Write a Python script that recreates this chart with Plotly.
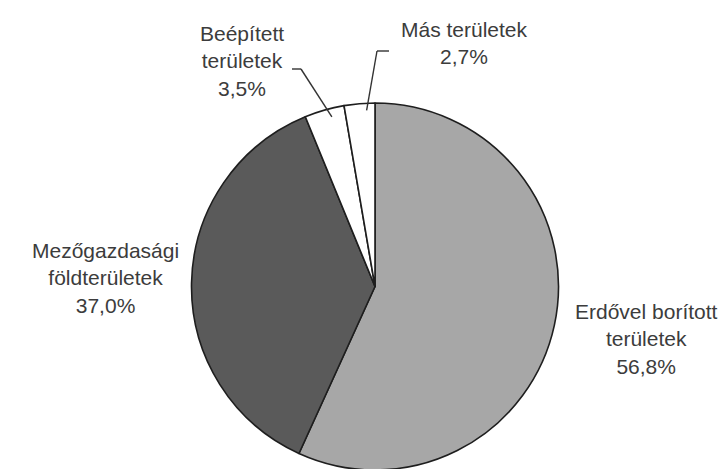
import math
import plotly.graph_objects as go

labels = ["Erdővel borított területek", "Mezőgazdasági földterületek", "Beépített területek", "Más területek"]
values = [56.8, 37.0, 3.5, 2.7]
label_texts = ["Erdővel borított<br>területek<br>56,8%", "Mezőgazdasági<br>földterületek<br>37,0%",
               "Beépített<br>területek<br>3,5%", "Más területek<br>2,7%"]
colors = ["#a7a7a7", "#5a5a5a", "#ffffff", "#ffffff"]

W, H = 728, 469
cx, cy, r = 374, 283.5, 183.5
# empirical correction of plotly's pie placement
dx_fix, dy_fix = -7, -5

fig = go.Figure(go.Pie(
    labels=labels, values=values, sort=False, direction="clockwise", rotation=0,
    marker=dict(colors=colors, line=dict(color="#1e1e1e", width=1.6)),
    textinfo="none", hoverinfo="label+percent", showlegend=False,
    domain=dict(x=[(cx + dx_fix - r) / W, (cx + dx_fix + r) / W],
                y=[1 - (cy + dy_fix + r) / H, 1 - (cy + dy_fix - r) / H]),
))

def px(x, y):
    return x / W, 1 - y / H

label_pos = [(638, 331), (97, 270), (234, 53), (456, 35)]
font = dict(family="Liberation Sans, Arial, sans-serif", size=21, color="#3c3c3c")
for t, (x, y) in zip(label_texts, label_pos):
    X, Y = px(x, y)
    fig.add_annotation(x=X, y=Y, xref="paper", yref="paper", text=t, showarrow=False,
                       font=font, align="center", xanchor="center", yanchor="middle")

total = sum(values)
cum = 0
mids = []
for v in values:
    mids.append((cum + v / 2) / total * 360)
    cum += v

def edge(angle_deg, rr):
    a = math.radians(angle_deg)
    return cx + rr * math.sin(a), cy - rr * math.cos(a)

leaders = {2: [(284, 61), (293, 61)], 3: [(381, 43), (369, 43)]}
for i, pts in leaders.items():
    ex, ey = edge(mids[i], r * 0.99)
    path_pts = pts + [(ex, ey)]
    for (x0, y0), (x1, y1) in zip(path_pts[:-1], path_pts[1:]):
        X0, Y0 = px(x0, y0)
        X1, Y1 = px(x1, y1)
        fig.add_shape(type="line", xref="paper", yref="paper", x0=X0, y0=Y0, x1=X1, y1=Y1,
                      line=dict(color="#333333", width=1.4))

fig.update_layout(width=W, height=H, margin=dict(l=0, r=0, t=0, b=0),
                  paper_bgcolor="white", plot_bgcolor="white")
fig.write_html("out.html")
